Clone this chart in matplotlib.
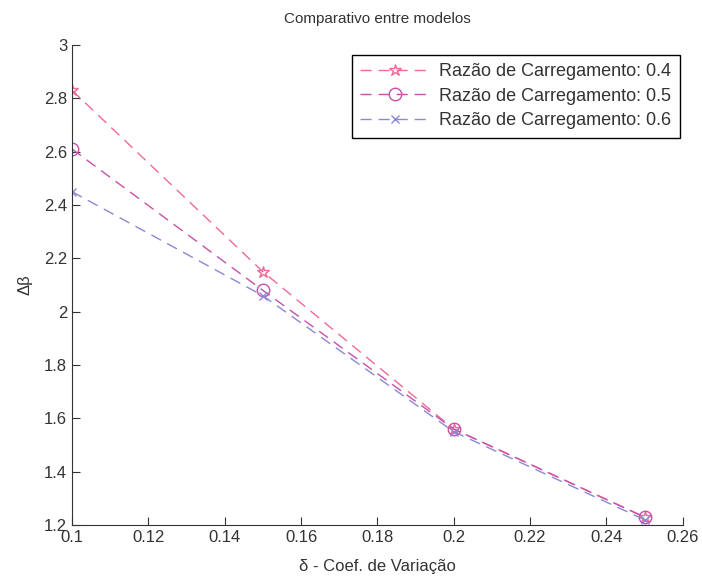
import matplotlib.pyplot as plt

plt.rcParams["font.family"] = ["Liberation Sans", "DejaVu Sans"]

delta = [0.10, 0.15, 0.20, 0.25]
razao_04 = [2.83, 2.15, 1.56, 1.23]
razao_05 = [2.61, 2.08, 1.56, 1.23]
razao_06 = [2.45, 2.06, 1.55, 1.22]
labels = ["Razão de Carregamento: 0.4", "Razão de Carregamento: 0.5", "Razão de Carregamento: 0.6"]

fig = plt.figure(figsize=(7.02, 5.77), dpi=100)
ax = fig.add_axes([0.1026, 0.090, 0.870, 0.832])

ax.plot(delta, razao_04, linestyle=(0, (8, 5)), color="#f06a96", marker="*", markersize=9,
        markerfacecolor="none", linewidth=1, label=labels[0])
ax.plot(delta, razao_05, linestyle=(0, (8, 5)), color="#c850a8", marker="o", markersize=9,
        markerfacecolor="none", linewidth=1, label=labels[1])
ax.plot(delta, razao_06, linestyle=(0, (8, 5)), color="#8a88d8", marker="x", markersize=6,
        linewidth=1, label=labels[2])

ax.set_xlim(0.1, 0.26)
ax.set_ylim(1.2, 3.0)
ax.set_xticks([0.1, 0.12, 0.14, 0.16, 0.18, 0.2, 0.22, 0.24, 0.26])
ax.set_xticklabels(["0.1", "0.12", "0.14", "0.16", "0.18", "0.2", "0.22", "0.24", "0.26"])
ax.set_yticks([1.2, 1.4, 1.6, 1.8, 2.0, 2.2, 2.4, 2.6, 2.8, 3.0])
ax.set_yticklabels(["1.2", "1.4", "1.6", "1.8", "2", "2.2", "2.4", "2.6", "2.8", "3"])
ax.tick_params(direction="in", labelsize=12, length=6, color="#333333", labelcolor="#333333")
ax.spines["top"].set_visible(False)
ax.spines["right"].set_visible(False)
ax.spines["left"].set_color("#333333")
ax.spines["bottom"].set_color("#333333")

ax.set_title("Comparativo entre modelos", fontsize=11, color="#333333", pad=16)
ax.set_xlabel("δ - Coef. de Variação", fontsize=12, color="#333333", labelpad=10)
ax.set_ylabel("Δβ", fontsize=12, color="#333333", labelpad=8)

leg = ax.legend(loc="upper right", bbox_to_anchor=(0.995, 0.979), borderaxespad=0,
                fontsize=13, fancybox=False, framealpha=1, edgecolor="black",
                handlelength=3.9, handletextpad=0.5, borderpad=0.45, labelspacing=0.42)
leg.get_frame().set_linewidth(1)
for t in leg.get_texts():
    t.set_color("#333333")

fig.savefig("out.png", dpi=100)
